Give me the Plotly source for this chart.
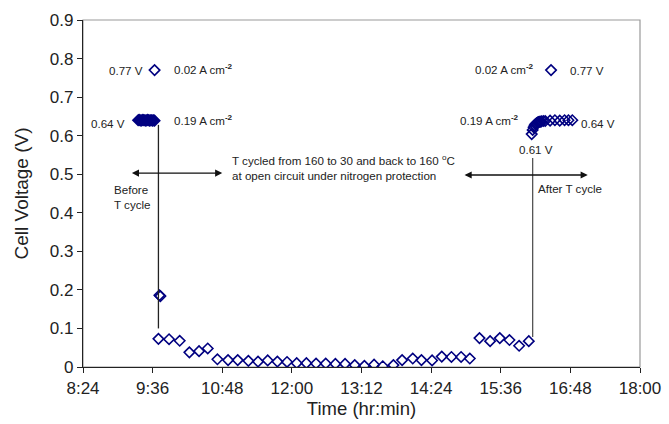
import plotly.graph_objects as go

# ---------------- data ----------------
x_tick_labels = ["8:24", "9:36", "10:48", "12:00", "13:12", "14:24", "15:36", "16:48", "18:00"]
y_tick_values = [0, 0.1, 0.2, 0.3, 0.4, 0.5, 0.6, 0.7, 0.8, 0.9]

# before T cycle, 0.19 A cm-2
before_t = ["9:21", "9:22", "9:23", "9:24", "9:25", "9:26", "9:27", "9:28", "9:29",
            "9:30", "9:31", "9:32", "9:33", "9:34", "9:35", "9:36", "9:37", "9:38"]
before_v = [0.640, 0.641, 0.640, 0.639, 0.640, 0.641, 0.640, 0.640, 0.639,
            0.640, 0.641, 0.640, 0.639, 0.640, 0.640, 0.639, 0.640, 0.639]
# open circuit (0.02 A cm-2) before
ocv_before_t = ["9:38"]
ocv_before_v = [0.77]
# transition points
trans_t = ["9:43", "9:44"]
trans_v = [0.186, 0.184]
# during T cycle, open circuit under N2
cycle_t = ["9:42", "9:53", "10:04", "10:14", "10:24", "10:33", "10:43", "10:54", "11:04",
           "11:15", "11:25", "11:35", "11:45", "11:55", "12:05", "12:15", "12:25", "12:35",
           "12:45", "12:55", "13:05", "13:15", "13:25", "13:34", "13:45", "13:54", "14:05",
           "14:14", "14:25", "14:35", "14:45", "14:55", "15:04", "15:14", "15:25", "15:35",
           "15:45", "15:55", "16:05"]
cycle_v = [0.073, 0.072, 0.068, 0.038, 0.041, 0.048, 0.020, 0.018, 0.018,
           0.016, 0.014, 0.017, 0.014, 0.013, 0.010, 0.010, 0.009, 0.009,
           0.008, 0.008, 0.005, 0.003, 0.006, 0.002, 0.005, 0.018, 0.022,
           0.018, 0.017, 0.027, 0.026, 0.026, 0.022, 0.075, 0.067, 0.075,
           0.070, 0.055, 0.067]
# after T cycle, 0.19 A cm-2
after_t = ["16:08", "16:09", "16:10", "16:11", "16:12", "16:13", "16:14", "16:15", "16:16",
           "16:17", "16:18", "16:20", "16:22", "16:27", "16:32", "16:37", "16:42", "16:46", "16:50"]
after_v = [0.604, 0.615, 0.622, 0.627, 0.630, 0.632, 0.634, 0.635, 0.636,
           0.636, 0.637, 0.638, 0.638, 0.639, 0.640, 0.639, 0.640, 0.640, 0.640]
# open circuit after
ocv_after_t = ["16:28"]
ocv_after_v = [0.77]


def to_min(s):
    h, m = s.split(":")
    return int(h) * 60 + int(m)


x_tick_vals = [to_min(s) for s in x_tick_labels]

NAVY = "#000080"
FONT = "Arial, Liberation Sans, sans-serif"

fig = go.Figure()

for tt, vv in [(before_t, before_v), (ocv_before_t, ocv_before_v), (trans_t, trans_v),
               (cycle_t, cycle_v), (after_t, after_v), (ocv_after_t, ocv_after_v)]:
    fig.add_trace(go.Scatter(
        x=[to_min(s) for s in tt], y=vv, mode="markers",
        marker=dict(symbol="diamond-open", size=8, color=NAVY, line=dict(width=1.6, color=NAVY)),
        showlegend=False, hoverinfo="skip"))

# vertical marker lines
shapes = [
    dict(type="line", xref="x", yref="y", x0=to_min("9:42"), x1=to_min("9:42"), y0=0.628, y1=0.10,
         line=dict(color="#222222", width=1.3)),
    dict(type="line", xref="x", yref="y", x0=to_min("16:09"), x1=to_min("16:09"), y0=0.078, y1=0.542,
         line=dict(color="#555555", width=1.3)),
    dict(type="rect", xref="x domain", yref="y domain", x0=0, x1=1, y0=0, y1=1,
         line=dict(color="#999999", width=1.2), layer="below"),
]

annots = []


def txt(text, t, v, xanchor="left", align="left"):
    annots.append(dict(text=text, x=to_min(t), y=v, xref="x", yref="y", showarrow=False,
                       xanchor=xanchor, yanchor="middle", align=align,
                       font=dict(family=FONT, size=11.6, color="#222222")))


txt("0.77 V", "9:28", 0.768, "right")
txt("0.02 A cm<sup><b>-2</b></sup>", "9:56", 0.772)
txt("0.64 V", "9:10", 0.632, "right")
txt("0.19 A cm<sup><b>-2</b></sup>", "9:56", 0.640)
txt("Before<br>T cycle", "8:54", 0.44)
txt("T cycled from 160 to 30 and back to 160 <sup>o</sup>C<br>at open circuit under nitrogen protection",
    "10:56", 0.518)
txt("After T cycle", "16:12", 0.464)
txt("0.02 A cm<sup><b>-2</b></sup>", "16:12", 0.772, "right")
txt("0.77 V", "16:46", 0.768)
txt("0.19 A cm<sup><b>-2</b></sup>", "15:57", 0.640, "right")
txt("0.64 V", "16:57", 0.632)
txt("0.61 V", "16:12", 0.563, "center")

# double-headed arrows
for a, b, v in [("9:13", "10:48", 0.503), ("14:57", "17:06", 0.498)]:
    annots.append(dict(x=to_min(b), y=v, ax=to_min(a), ay=v, xref="x", yref="y",
                       axref="x", ayref="y", text="", showarrow=True, arrowhead=2,
                       arrowside="end+start", arrowsize=1.1, arrowwidth=1.3, arrowcolor="#111111"))

fig.update_layout(
    width=669, height=424,
    margin=dict(l=83, r=29, t=20, b=57),
    paper_bgcolor="white", plot_bgcolor="white",
    font=dict(family=FONT, color="#222222"),
    shapes=shapes, annotations=annots,
    xaxis=dict(range=[x_tick_vals[0], x_tick_vals[-1]], tickvals=x_tick_vals, ticktext=x_tick_labels,
               showgrid=False, zeroline=False, showline=True, linecolor="#222222", linewidth=1.3,
               ticks="outside", ticklen=5, tickcolor="#222222", automargin=False,
               tickfont=dict(size=17), title=dict(text="Time (hr:min)", font=dict(size=18.5), standoff=5)),
    yaxis=dict(range=[0, 0.9], tickvals=y_tick_values, ticktext=[("%g" % v) for v in y_tick_values],
               showgrid=False, zeroline=False, showline=True, linecolor="#222222", linewidth=1.3,
               ticks="outside", ticklen=5, tickcolor="#222222", automargin=False,
               tickfont=dict(size=17), title=dict(text="Cell Voltage (V)", font=dict(size=19), standoff=16)),
)

fig.write_html("out.html")
